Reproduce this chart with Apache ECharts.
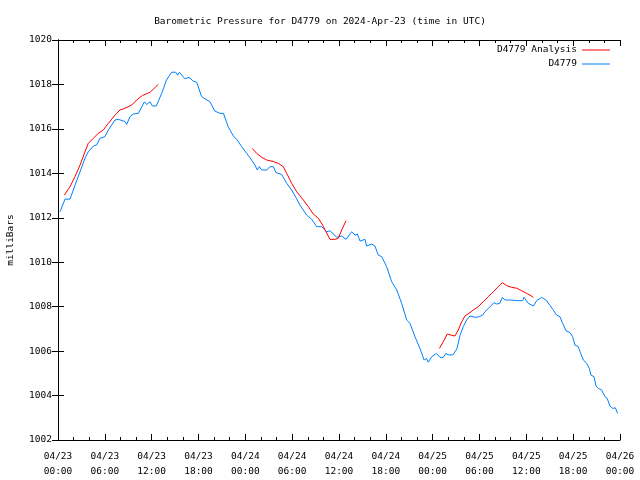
<!DOCTYPE html>
<html><head><meta charset="utf-8">
<script src="https://cdn.jsdelivr.net/npm/echarts@6/dist/echarts.min.js"></script>
<style>html,body{margin:0;padding:0;background:#fff}#c{width:640px;height:480px}</style>
</head><body><div id="c"></div>
<script>
// hours since 2024-04-23 00:00 UTC
const stationHours = [0.26,0.9,1.54,2.18,2.82,3.46,3.88,4.53,4.96,5.38,6.02,6.45,7.3,7.73,8.58,8.8,9.22,9.65,10.3,11.06,11.36,11.8,12.1,12.6,13.28,13.9,14.57,15.08,15.33,15.55,16.27,16.78,17.34,17.77,18.4,18.83,19.47,20.1,20.75,21.2,21.8,22.46,22.97,23.53,24.17,24.8,25.24,25.53,25.79,26.1,26.74,27.16,27.58,27.93,28.66,29.3,29.94,30.58,31.0,31.86,32.5,33.14,33.78,34.42,34.85,35.7,36.35,36.9,37.62,38.05,38.35,38.7,39.33,39.54,40.2,40.6,41.04,41.47,42.1,42.75,43.4,44.03,44.67,45.1,45.73,46.37,46.9,47.2,47.44,47.88,48.5,48.94,49.36,49.7,50.0,50.6,51.1,51.5,51.92,52.35,52.78,53.42,53.97,54.4,54.7,55.13,55.56,55.86,56.2,56.6,56.92,57.27,58.1,58.76,59.53,59.7,60.25,60.9,61.33,61.97,62.6,63.0,63.4,63.88,64.3,64.65,65.08,65.6,65.93,66.23,66.65,66.96,67.3,67.73,68.07,68.28,68.67,68.92,69.22,69.65,70.07,70.37,70.7,71.08,71.4,71.7];
const stationPressure = [1012.27,1012.84,1012.84,1013.47,1014.07,1014.68,1014.97,1015.23,1015.28,1015.58,1015.65,1015.95,1016.4,1016.43,1016.33,1016.2,1016.55,1016.67,1016.7,1017.22,1017.1,1017.22,1017.03,1017.03,1017.6,1018.2,1018.55,1018.55,1018.42,1018.55,1018.25,1018.32,1018.15,1018.1,1017.45,1017.35,1017.22,1016.8,1016.7,1016.7,1016.1,1015.68,1015.5,1015.2,1014.9,1014.6,1014.37,1014.15,1014.3,1014.15,1014.15,1014.3,1014.3,1014.03,1013.95,1013.55,1013.25,1012.85,1012.57,1012.12,1011.93,1011.6,1011.6,1011.37,1011.42,1011.12,1011.18,1011.03,1011.37,1011.22,1011.27,1010.95,1011.03,1010.73,1010.82,1010.73,1010.32,1010.25,1009.8,1009.12,1008.75,1008.15,1007.4,1007.25,1006.65,1006.12,1005.6,1005.67,1005.5,1005.75,1005.9,1005.72,1005.72,1005.9,1005.83,1005.83,1006.1,1006.7,1007.1,1007.4,1007.58,1007.52,1007.55,1007.62,1007.77,1007.92,1008.07,1008.18,1008.12,1008.15,1008.42,1008.3,1008.3,1008.27,1008.27,1008.42,1008.15,1008.03,1008.27,1008.42,1008.27,1008.07,1007.88,1007.62,1007.55,1007.25,1006.92,1006.83,1006.65,1006.27,1006.2,1005.9,1005.6,1005.45,1005.22,1004.92,1004.85,1004.43,1004.32,1004.25,1003.95,1003.87,1003.53,1003.42,1003.45,1003.2];

const analysisHours1 = [0.81,1.54,2.18,2.82,3.46,3.88,4.53,5.16,5.8,6.45,7.3,7.94,8.58,9.44,10.08,10.8,11.8,12.43,12.85];
const analysisPressure1 = [1013.02,1013.4,1013.85,1014.37,1014.97,1015.35,1015.58,1015.8,1015.95,1016.25,1016.62,1016.85,1016.93,1017.07,1017.3,1017.5,1017.65,1017.86,1018.0];
const analysisHours2 = [24.9,25.45,26.1,26.74,27.58,28.22,28.86,29.3,29.94,30.58,31.43,32.07,32.7,33.35,33.9,34.33,34.85,35.49,35.9,36.35,36.9];
const analysisPressure2 = [1015.12,1014.9,1014.72,1014.6,1014.53,1014.45,1014.3,1014.0,1013.55,1013.17,1012.8,1012.5,1012.17,1011.98,1011.67,1011.37,1011.03,1011.03,1011.07,1011.45,1011.87];
const analysisHours3 = [48.85,49.36,49.87,50.44,50.86,51.28,51.72,52.14,52.78,53.2,53.84,54.48,55.13,55.77,56.4,56.92,57.48,58.12,58.76,59.4,60.04,60.47,60.9];
const analysisPressure3 = [1006.12,1006.42,1006.77,1006.71,1006.68,1006.95,1007.32,1007.58,1007.73,1007.85,1008.0,1008.22,1008.45,1008.67,1008.9,1009.08,1008.95,1008.87,1008.83,1008.72,1008.6,1008.52,1008.42];

const xDays = ['04/23','04/24','04/25','04/26'];
const titleText = 'Barometric Pressure for D4779 on 2024-Apr-23 (time in UTC)';

const FONT = 'DejaVu Sans Mono';
const zip = (a, b) => a.map((v, i) => [v, b[i]]);
const pad = n => (n < 10 ? '0' : '') + n;
const xFmt = v => xDays[Math.floor(v / 24)] + '\n' + pad(v % 24) + ':00';

const chart = echarts.init(document.getElementById('c'), null, {renderer: 'canvas'});
const lineSeries = (name, data, color) => ({
  name, type: 'line', data, showSymbol: false, symbol: 'none',
  lineStyle: {color, width: 1}, itemStyle: {color}, animation: false, z: name === 'D4779' ? 2 : 3
});
const xBase = {
  type: 'value', min: 0, max: 72, interval: 6,
  axisLine: {show: true, lineStyle: {color: '#000', width: 1}},
  axisTick: {show: true, inside: true, length: 6, lineStyle: {color: '#000'}},
  minorTick: {show: true, splitNumber: 3, length: 3, lineStyle: {color: '#000'}},
  splitLine: {show: false}, minorSplitLine: {show: false}
};
const yBase = {
  type: 'value', min: 1002, max: 1020, interval: 2,
  axisLine: {show: true, lineStyle: {color: '#000', width: 1}},
  axisTick: {show: true, inside: true, length: 6, lineStyle: {color: '#000'}},
  splitLine: {show: false}
};
chart.setOption({
  backgroundColor: '#fff',
  animation: false,
  title: {text: titleText, left: 'center', top: 12,
    textStyle: {fontFamily: FONT, fontSize: 9.5, fontWeight: 'normal', color: '#000'}},
  legend: {
    right: 25, top: 40, orient: 'vertical', align: 'right', itemGap: 4,
    itemWidth: 28, itemHeight: 8,
    data: [{name: 'D4779 Analysis', icon: 'path://M0,0L28,0L28,1L0,1Z'}, {name: 'D4779', icon: 'path://M0,0L28,0L28,1L0,1Z'}],
    textStyle: {fontFamily: FONT, fontSize: 9.5, color: '#000'}, selectedMode: false
  },
  grid: {left: 58, right: 20, top: 40, bottom: 40, containLabel: false, outerBoundsMode: 'none'},
  xAxis: [
    Object.assign({}, xBase, {position: 'bottom',
      axisLabel: {formatter: xFmt, fontFamily: FONT, fontSize: 9.5, color: '#000', margin: 9, lineHeight: 15}}),
    Object.assign({}, xBase, {position: 'top', axisLabel: {show: false}})
  ],
  yAxis: [
    Object.assign({}, yBase, {position: 'left', name: 'milliBars', nameLocation: 'middle', nameGap: 42,
      nameTextStyle: {fontFamily: FONT, fontSize: 9.5, color: '#000'},
      axisLabel: {formatter: v => String(v), fontFamily: FONT, fontSize: 9.5, color: '#000', margin: 6}}),
    Object.assign({}, yBase, {position: 'right', axisLabel: {show: false}})
  ],
  series: [
    lineSeries('D4779 Analysis', zip(analysisHours1, analysisPressure1), '#ff0000'),
    lineSeries('D4779', zip(stationHours, stationPressure), '#0080ff'),
    lineSeries('D4779 Analysis', zip(analysisHours2, analysisPressure2), '#ff0000'),
    lineSeries('D4779 Analysis', zip(analysisHours3, analysisPressure3), '#ff0000')
  ]
});
</script></body></html>
